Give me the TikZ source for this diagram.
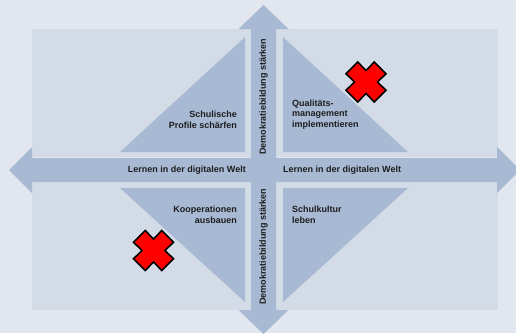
\documentclass[tikz,border=0pt]{standalone}
\usepackage{fontspec}
\setmainfont{Liberation Sans}
\begin{document}
\begin{tikzpicture}[x=1pt,y=-1pt,
  bgfill/.style={fill={rgb,255:red,226;green,231;blue,239}},
  panel/.style={fill={rgb,255:red,211;green,219;blue,230}},
  arrowfill/.style={fill={rgb,255:red,168;green,185;blue,212}},
  lbl/.style={inner sep=0pt, text={rgb,255:red,30;green,30;blue,30}, font=\fontsize{9}{11}\selectfont\bfseries},
  redx/.style={fill=red, draw=black, line width=1.6pt, line join=miter}
]
\useasboundingbox (0,0) rectangle (516,333);
\fill[bgfill] (0,0) rectangle (516,333);
% panels
\fill[panel] (32,29) rectangle (250.5,157);
\fill[panel] (276,29) rectangle (498,157);
\fill[panel] (32,182) rectangle (250.5,310);
\fill[panel] (276,182) rectangle (498,310);
% cross arrows
\fill[arrowfill] (251,29) -- (238.5,29) -- (263.5,5) -- (288.5,29) -- (276,29)
  -- (276,310) -- (288.5,310) -- (263.5,334) -- (238.5,310) -- (251,310) -- cycle;
\fill[arrowfill] (32,158) -- (32,147) -- (9,170) -- (32,193) -- (32,182)
  -- (497,182) -- (497,193) -- (520,170) -- (497,147) -- (497,158) -- cycle;
% triangles
\fill[arrowfill] (245,37) -- (245,152) -- (120,152) -- cycle;
\fill[arrowfill] (283,37) -- (283,152) -- (408,152) -- cycle;
\fill[arrowfill] (120,188) -- (245,188) -- (245,302) -- cycle;
\fill[arrowfill] (283,188) -- (408,188) -- (283,302) -- cycle;
% labels
\node[lbl, anchor=east, align=right] (profile) at (237,120) {Schulische\\Profile schärfen};
\node[lbl, anchor=west, align=left, font=\fontsize{9}{10.5}\selectfont\bfseries] (quali) at (292,114.5) {Qualitäts-\\management\\implementieren};
\node[lbl, anchor=east, align=right] (koop) at (237,215) {Kooperationen\\ausbauen};
\node[lbl, anchor=west, align=left] (kultur) at (292,214.5) {Schulkultur\\leben};
\node[lbl, anchor=east] (lernenL) at (246,170) {Lernen in der digitalen Welt};
\node[lbl, anchor=west] (lernenR) at (283,170) {Lernen in der digitalen Welt};
\node[lbl, rotate=90] (demoT) at (263.5,96.5) {Demokratiebildung stärken};
\node[lbl, rotate=90] (demoB) at (263.5,246.5) {Demokratiebildung stärken};
% red crosses
\foreach \cx/\cy in {366/82, 153.5/250.5} {
  \begin{scope}[shift={(\cx,\cy)}]
    \filldraw[redx] (0,-11.5) -- (8.3,-20) -- (20,-8.3) -- (11.5,0) -- (20,8.3) -- (8.3,20)
      -- (0,11.5) -- (-8.3,20) -- (-20,8.3) -- (-11.5,0) -- (-20,-8.3) -- (-8.3,-20) -- cycle;
  \end{scope}
}
\end{tikzpicture}
\end{document}
